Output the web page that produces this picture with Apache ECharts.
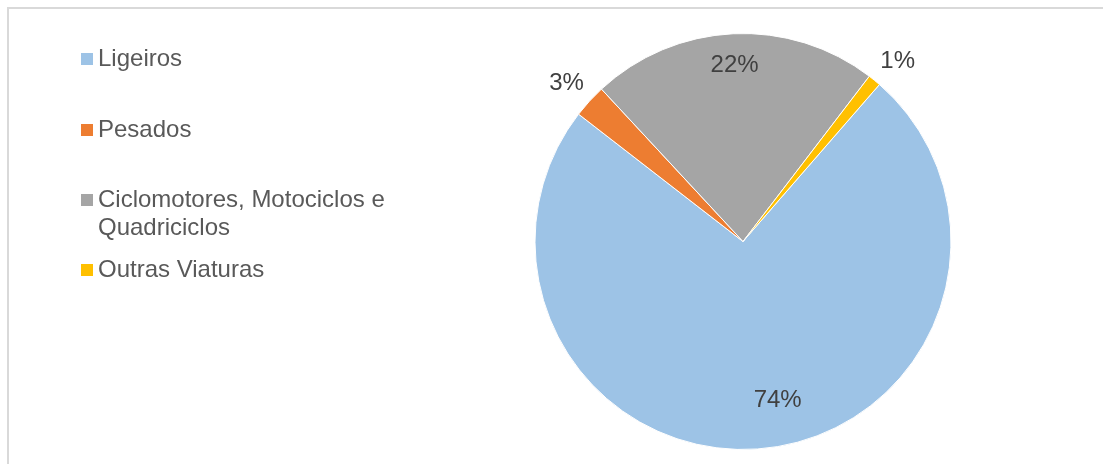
<!DOCTYPE html>
<html>
<head>
<meta charset="utf-8">
<title>Veículos por categoria</title>
<script src="https://cdn.jsdelivr.net/npm/echarts@6/dist/echarts.min.js"></script>
<style>
  html, body { margin: 0; padding: 0; background: #fff; }
  #chart { width: 1103px; height: 464px; }
</style>
</head>
<body>
<div id="chart"></div>
<script>
// Vehicle categories and their share (%)
const categories = ['Ligeiros', 'Pesados', 'Ciclomotores, Motociclos e Quadriciclos', 'Outras Viaturas'];
const shares = [74.1, 2.6, 22.3, 1.0];
const colors = ['#9DC3E6', '#ED7D31', '#A5A5A5', '#FFC000'];

const FONT = "'Liberation Sans', Arial, sans-serif";
const CX = 743, CY = 241.5, R = 208;

const pctFormatter = p => Math.round(p.percent) + '%';

const baseData = categories.map((name, i) => ({
  name: name,
  value: shares[i],
  itemStyle: { color: colors[i] }
}));

// label carriers: transparent rings whose middle radius sets where the text sits
function labelRing(radius, showIdx, labelExtra) {
  return {
    type: 'pie',
    silent: true,
    center: [CX, CY],
    radius: radius,
    startAngle: 49,
    clockwise: true,
    avoidLabelOverlap: false,
    itemStyle: { color: 'transparent', borderWidth: 0 },
    emphasis: { disabled: true },
    labelLine: { show: false },
    data: categories.map((name, i) => ({
      name: name,
      value: shares[i],
      label: { show: showIdx.indexOf(i) >= 0 }
    })),
    label: Object.assign({
      position: 'inside',
      formatter: pctFormatter,
      color: '#404040',
      fontSize: 24,
      fontFamily: FONT
    }, labelExtra || {})
  };
}

function legendFor(name, top, formatter) {
  const lg = {
    data: [name],
    orient: 'vertical',
    left: 81,
    top: top,
    padding: 0,
    icon: 'rect',
    itemWidth: 12,
    itemHeight: 12,
    itemStyle: { borderWidth: 0 },
    selectedMode: false,
    textStyle: {
      color: '#595959',
      fontSize: 24,
      fontFamily: FONT,
      lineHeight: 28
    }
  };
  if (formatter) lg.formatter = formatter;
  return lg;
}

const chart = echarts.init(document.getElementById('chart'), null, { renderer: 'canvas' });

chart.setOption({
  animation: false,
  backgroundColor: '#ffffff',
  graphic: [{
    type: 'rect',
    shape: { x: 8, y: 8, width: 1200, height: 600 },
    style: { fill: 'none', stroke: '#d9d9d9', lineWidth: 2 },
    silent: true
  }],
  legend: [
    legendFor(categories[0], 45),
    legendFor(categories[1], 116),
    // two-line entry: a leading blank line keeps the marker beside the first line
    legendFor(categories[2], 158, () => '\nCiclomotores, Motociclos e\nQuadriciclos'),
    legendFor(categories[3], 256)
  ],
  series: [
    {
      type: 'pie',
      center: [CX, CY],
      radius: R,
      startAngle: 49,
      clockwise: true,
      avoidLabelOverlap: false,
      label: { show: false },
      labelLine: { show: false },
      itemStyle: { borderColor: '#ffffff', borderWidth: 1 },
      emphasis: { scale: false },
      data: baseData
    },
    labelRing([106, R], [0], { padding: [0, 0, 0, 38] }),
    labelRing([138, R], [2]),
    labelRing([R, 256], [1], { padding: [0, 6, 0, 0] }),
    labelRing([R, 250], [3], { padding: [0, 0, 0, 16] })
  ]
});
</script>
</body>
</html>
